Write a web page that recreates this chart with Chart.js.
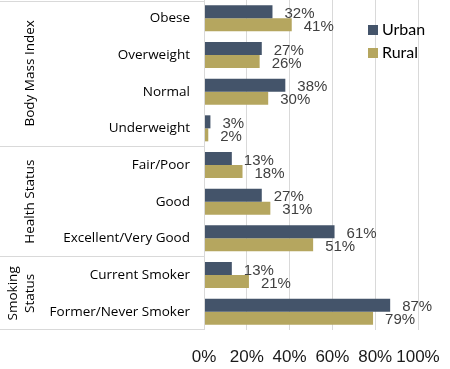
<!DOCTYPE html>
<html>
<head>
<meta charset="utf-8">
<script src="https://cdn.jsdelivr.net/npm/chart.js@4"></script>
<style>
  html, body { margin: 0; padding: 0; background: #fff; }
  canvas { display: block; }
</style>
</head>
<body>
<canvas id="myChart" width="450" height="369"></canvas>
<script>
// Datos
const categorias = ["Obese", "Overweight", "Normal", "Underweight", "Fair/Poor", "Good", "Excellent/Very Good", "Current Smoker", "Former/Never Smoker"];
const urbano = [32, 27, 38, 3, 13, 27, 61, 13, 87];
const rural = [41, 26, 30, 2, 18, 31, 51, 21, 79];
const ticksX = [0, 20, 40, 60, 80, 100];
const grupos = [
  { lineas: ["Body Mass Index"], desde: 0, hasta: 3 },
  { lineas: ["Health Status"], desde: 4, hasta: 6 },
  { lineas: ["Smoking", "Status"], desde: 7, hasta: 8 },
];

const colorUrbano = "#44546a";
const colorRural = "#b5a65f";
const lineaGris = "#d9d9d9";

// Etiquetas de valor al final de cada barra
const etiquetasPlugin = {
  id: "etiquetas",
  afterDatasetsDraw(chart) {
    const ctx = chart.ctx;
    ctx.save();
    ctx.font = "15px 'Liberation Sans', Arial, sans-serif";
    ctx.fillStyle = "#404040";
    ctx.textAlign = "left";
    ctx.textBaseline = "middle";
    chart.data.datasets.forEach((ds, i) => {
      chart.getDatasetMeta(i).data.forEach((bar, j) => {
        ctx.fillText(ds.data[j] + "%", bar.x + 12, bar.y + 2);
      });
    });
    ctx.restore();
  },
};

// Caja de grupos a la izquierda + leyenda
const gruposPlugin = {
  id: "grupos",
  afterDraw(chart) {
    const ctx = chart.ctx;
    const y = chart.scales.y;
    const area = chart.chartArea;
    const paso = y.getPixelForValue(1) - y.getPixelForValue(0);
    ctx.save();
    ctx.strokeStyle = lineaGris;
    ctx.lineWidth = 1;
    ctx.font = "13.5px 'Open Sans', sans-serif";
    ctx.fillStyle = "#000";
    ctx.textAlign = "center";
    ctx.textBaseline = "middle";
    ctx.beginPath();
    ctx.moveTo(0, 1.5);
    ctx.lineTo(area.left, 1.5);
    ctx.stroke();
    grupos.forEach((g) => {
      const top = y.getPixelForValue(g.desde) - paso / 2;
      const bottom = y.getPixelForValue(g.hasta) + paso / 2;
      ctx.beginPath();
      ctx.moveTo(0, Math.round(bottom) - 0.5);
      ctx.lineTo(area.left, Math.round(bottom) - 0.5);
      ctx.stroke();
      const n = g.lineas.length;
      g.lineas.forEach((t, k) => {
        const cx = 30 - (n - 1 - k) * 17;
        ctx.save();
        ctx.translate(cx, (top + bottom) / 2);
        ctx.rotate(-Math.PI / 2);
        ctx.fillText(t, 0, 0);
        ctx.restore();
      });
    });
    // borde derecho de la caja
    ctx.beginPath();
    ctx.moveTo(Math.round(area.left) + 0.5, area.top);
    ctx.lineTo(Math.round(area.left) + 0.5, area.bottom);
    ctx.stroke();

    // leyenda
    ctx.font = "16px Lato, sans-serif";
    ctx.textAlign = "left";
    chart.data.datasets.forEach((ds, i) => {
      const ly = 30 + i * 23;
      ctx.fillStyle = ds.backgroundColor;
      ctx.fillRect(368, ly - 5, 10, 10);
      ctx.fillStyle = "#000";
      ctx.fillText(ds.label, 382, ly);
    });
    ctx.restore();
  },
};

new Chart(document.getElementById("myChart"), {
  type: "bar",
  data: {
    labels: categorias,
    datasets: [
      { label: "Urban", data: urbano, backgroundColor: colorUrbano },
      { label: "Rural", data: rural, backgroundColor: colorRural },
    ],
  },
  options: {
    indexAxis: "y",
    responsive: false,
    animation: false,
    devicePixelRatio: 1,
    layout: { padding: { top: 0, right: 32, left: 0, bottom: 0 } },
    datasets: { bar: { categoryPercentage: 0.71, barPercentage: 1 } },
    scales: {
      x: {
        min: 0,
        max: 100,
        afterBuildTicks: (s) => { s.ticks = ticksX.map((v) => ({ value: v })); },
        afterFit: (s) => {
          s.height = 39;
          s.paddingLeft = 0; s.paddingRight = 0; s.paddingTop = 0; s.paddingBottom = 0;
        },
        grid: { color: (c) => (c.tick && c.tick.value === 0 ? "rgba(0,0,0,0)" : lineaGris), drawTicks: false },
        border: { display: false },
        ticks: {
          autoSkip: false,
          callback: (v) => v + "%",
          color: "#1a1a1a",
          font: { size: 17, family: "'Liberation Sans', Arial, sans-serif" },
          padding: 17,
          maxRotation: 0,
        },
      },
      y: {
        afterFit: (s) => {
          s.width = 204;
          s.paddingLeft = 0; s.paddingRight = 0; s.paddingTop = 0; s.paddingBottom = 0;
        },
        grid: { display: false, drawTicks: false },
        border: { display: false },
        ticks: {
          color: "#000",
          font: { size: 13.5, family: "'Open Sans', sans-serif" },
          padding: 14,
        },
      },
    },
    plugins: {
      legend: { display: false },
      tooltip: { enabled: false },
    },
  },
  plugins: [etiquetasPlugin, gruposPlugin],
});
</script>
</body>
</html>
